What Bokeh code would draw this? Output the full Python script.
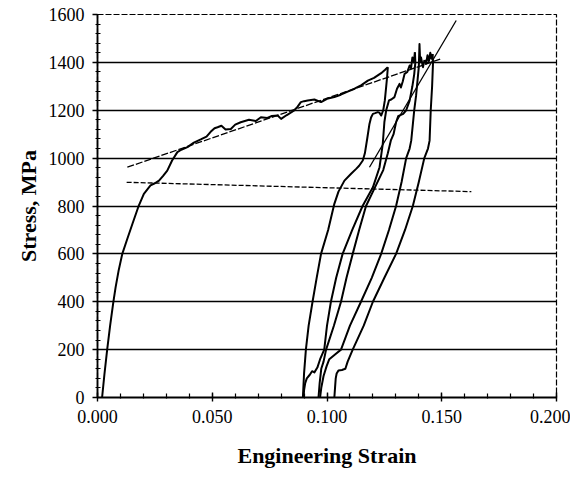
from bokeh.plotting import figure
from bokeh.models import FixedTicker, PrintfTickFormatter, Range1d
from bokeh.embed import file_html
from bokeh.resources import INLINE

# ---- data (engineering strain, stress in MPa) ----
main_strain = [0.002, 0.003, 0.0042, 0.0055, 0.0069, 0.0079, 0.0092, 0.0108, 0.013, 0.0152, 0.018, 0.0202,
               0.0231, 0.025, 0.0268, 0.0285, 0.0304, 0.0325, 0.0348, 0.0365, 0.0392, 0.042, 0.045, 0.0475,
               0.0493, 0.051, 0.0523, 0.054, 0.0558, 0.0581, 0.06, 0.0624, 0.066, 0.069, 0.0712, 0.074,
               0.076, 0.0785, 0.08, 0.0825, 0.0857, 0.0872, 0.0886, 0.09, 0.0916, 0.0945, 0.0974, 0.1,
               0.1032, 0.106, 0.109, 0.112, 0.115, 0.1178, 0.1205, 0.1236, 0.1252, 0.1265]
main_stress = [0, 95, 199, 300, 398, 461, 530, 600, 663, 725, 802, 851,
               886, 895, 906, 925, 948, 990, 1025, 1035, 1046, 1065, 1078, 1090,
               1110, 1125, 1129, 1135, 1120, 1122, 1140, 1150, 1160, 1155, 1171, 1168,
               1176, 1178, 1164, 1180, 1199, 1215, 1234, 1238, 1241, 1245, 1234, 1248,
               1255, 1265, 1278, 1290, 1305, 1324, 1335, 1355, 1368, 1380]

unload1_strain = [0.1265, 0.1262, 0.1258, 0.1252, 0.1245, 0.1236, 0.1228, 0.1221, 0.121, 0.12, 0.1192,
                  0.1185, 0.1175, 0.1165, 0.1156, 0.114, 0.1127, 0.1105, 0.1076, 0.105, 0.1032, 0.1005,
                  0.0974, 0.0955, 0.0937, 0.092, 0.0908, 0.09, 0.0895]
unload1_stress = [1380, 1340, 1300, 1241, 1200, 1178, 1190, 1192, 1188, 1185, 1170,
                  1143, 1080, 1020, 990, 968, 955, 935, 906, 860, 809, 700,
                  600, 500, 400, 300, 200, 100, 0]

reload1_strain = [0.0898, 0.09, 0.0905, 0.0912, 0.0925, 0.0935, 0.0945, 0.0958, 0.097, 0.0988, 0.1,
                  0.1017, 0.104, 0.1068, 0.111, 0.1155, 0.12, 0.1229, 0.1243, 0.125, 0.1258, 0.127,
                  0.128, 0.1294, 0.1305, 0.1316, 0.1322, 0.133, 0.1338, 0.135, 0.136, 0.1366, 0.1372,
                  0.1378, 0.1383]
reload1_stress = [0, 30, 60, 80, 95, 110, 105, 125, 160, 200, 300,
                  400, 500, 600, 700, 800, 878, 962, 1060, 1150, 1200, 1241,
                  1245, 1255, 1290, 1310, 1295, 1320, 1352, 1360, 1387, 1375, 1420,
                  1400, 1442]

unload2_strain = [0.1383, 0.1385, 0.138, 0.1372, 0.136, 0.1345, 0.1332, 0.132, 0.131, 0.1301, 0.129,
                  0.1278, 0.1265, 0.1245, 0.121, 0.117, 0.114, 0.1112, 0.1085, 0.1061, 0.103, 0.0996,
                  0.0985, 0.0975, 0.0968, 0.0963]
unload2_stress = [1442, 1400, 1350, 1300, 1240, 1200, 1185, 1180, 1175, 1150, 1100,
                  1073, 1020, 950, 880, 800, 700, 600, 500, 400, 300, 200,
                  150, 120, 60, 0]

reload2_strain = [0.097, 0.0975, 0.0985, 0.0998, 0.101, 0.1035, 0.1061, 0.11, 0.1148, 0.1195, 0.1236,
                  0.127, 0.1301, 0.1325, 0.1345, 0.136, 0.1367, 0.1375, 0.138, 0.1388, 0.1395, 0.14,
                  0.1403, 0.1406, 0.141, 0.1418, 0.1425]
reload2_stress = [0, 40, 90, 130, 160, 180, 200, 300, 400, 500, 600,
                  700, 800, 900, 1000, 1040, 1073, 1150, 1199, 1260, 1330, 1380,
                  1477, 1400, 1420, 1380, 1410]

unload3_strain = [0.146, 0.1462, 0.1458, 0.1452, 0.1447, 0.144, 0.1424, 0.14, 0.1374, 0.134, 0.1301,
                  0.125, 0.12, 0.116, 0.1112, 0.109, 0.108, 0.1065, 0.105, 0.1042, 0.1038, 0.1035, 0.1032]
unload3_stress = [1435, 1400, 1300, 1200, 1073, 1040, 1000, 900, 800, 700, 600,
                  500, 400, 300, 200, 150, 120, 115, 113, 100, 80, 40, 0]

top3_strain = [0.1425, 0.1432, 0.1438, 0.1444, 0.145, 0.1455, 0.146]
top3_stress = [1410, 1395, 1430, 1405, 1440, 1415, 1435]

hardening_fit_strain = [0.013, 0.1498]
hardening_fit_stress = [962, 1415]
plateau_fit_strain = [0.0127, 0.1629]
plateau_fit_stress = [899, 860]
elastic_fit_strain = [0.1185, 0.1563]
elastic_fit_stress = [962, 1575]

x_ticks = [0.0, 0.05, 0.1, 0.15, 0.2]
y_ticks = [0, 200, 400, 600, 800, 1000, 1200, 1400, 1600]
grid_levels = [200, 400, 600, 800, 1000, 1200, 1400]

x_label = "Engineering Strain"
y_label = "Stress, MPa"

# ---- figure ----
p = figure(width=570, height=470, output_backend="svg", toolbar_location=None,
           x_range=Range1d(0, 0.2), y_range=Range1d(0, 1600),
           min_border_left=97, min_border_right=14, min_border_top=14, min_border_bottom=73)
p.background_fill_color = "white"
p.border_fill_color = "white"
p.outline_line_color = "black"
p.outline_line_width = 1.2
p.outline_line_dash = "6 2"

p.xgrid.visible = False
p.ygrid.ticker = FixedTicker(ticks=grid_levels)
p.ygrid.grid_line_color = "black"
p.ygrid.grid_line_width = 1.4

p.xaxis.ticker = FixedTicker(ticks=x_ticks, minor_ticks=[i * 0.01 for i in range(21)])
p.xaxis.formatter = PrintfTickFormatter(format="%.3f")
p.yaxis.ticker = FixedTicker(ticks=y_ticks, minor_ticks=list(range(0, 1601, 40)))

for ax in (p.xaxis, p.yaxis):
    ax.axis_line_color = "black"
    ax.axis_line_width = 1.8
    ax.major_tick_line_color = "black"
    ax.minor_tick_line_color = "black"
    ax.major_tick_line_width = 1.4
    ax.minor_tick_line_width = 1.2
    ax.major_label_text_font = "Liberation Serif"
    ax.major_label_text_font_size = "18px"
    ax.major_label_text_color = "black"
    ax.axis_label_text_font = "Liberation Serif"
    ax.axis_label_text_font_style = "bold"
    ax.axis_label_text_font_size = "22px"
    ax.axis_label_text_color = "black"

p.xaxis.major_tick_in = 5
p.xaxis.major_tick_out = 4
p.xaxis.minor_tick_in = 4
p.xaxis.minor_tick_out = 1
p.xaxis.major_label_standoff = 8
p.xaxis.axis_label = x_label
p.xaxis.axis_label_standoff = 17

p.yaxis.major_tick_in = 0
p.yaxis.major_tick_out = 5
p.yaxis.minor_tick_in = 3
p.yaxis.minor_tick_out = 2
p.yaxis.major_label_standoff = 8
p.yaxis.axis_label = y_label
p.yaxis.axis_label_standoff = 5

curve_sets = [
    (main_strain, main_stress),
    (unload1_strain, unload1_stress),
    (reload1_strain, reload1_stress),
    (unload2_strain, unload2_stress),
    (reload2_strain, reload2_stress),
    (unload3_strain, unload3_stress),
    (top3_strain, top3_stress),
]
for xs, ys in curve_sets:
    p.line(xs, ys, line_color="black", line_width=2.0, line_join="round")

p.line(hardening_fit_strain, hardening_fit_stress, line_color="black", line_width=1.3, line_dash="7 2")
p.line(plateau_fit_strain, plateau_fit_stress, line_color="black", line_width=1.3, line_dash="5 2")
p.line(elastic_fit_strain, elastic_fit_stress, line_color="black", line_width=1.3)

open("out.html", "w").write(file_html(p, INLINE))
